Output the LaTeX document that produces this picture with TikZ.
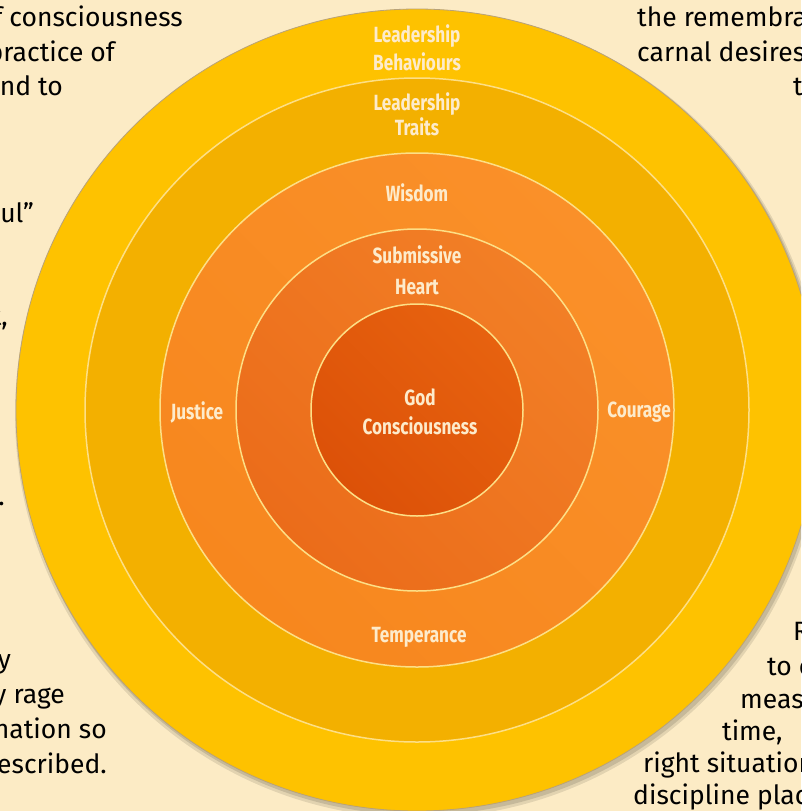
\documentclass[tikz,border=0pt]{standalone}
\usepackage{fontspec}
\setmainfont{Fira Sans}
\newfontfamily\labfont[FakeStretch=0.78]{Fira Sans}
\usetikzlibrary{calc}
\definecolor{bgcol}{HTML}{FCEBC5}
\definecolor{ringA}{HTML}{FEC200}
\definecolor{ringB}{HTML}{F3B000}
\definecolor{ringCa}{HTML}{FA9029}
\definecolor{ringCb}{HTML}{F7871E}
\definecolor{ringDa}{HTML}{F27F26}
\definecolor{ringDb}{HTML}{EB6C1A}
\definecolor{ringEa}{HTML}{E7620F}
\definecolor{ringEb}{HTML}{DC5108}
\definecolor{sepcol}{HTML}{FDDF86}
\definecolor{edgecol}{HTML}{B8A27A}
\definecolor{labcol}{HTML}{FDEBCB}
\tikzset{
  ring/.style={draw=sepcol,line width=1.5pt},
  lab/.style={text=labcol,align=center,inner sep=0pt,
    font=\labfont\bfseries\fontsize{22}{27}\selectfont},
  body/.style={text=black,inner sep=0pt,font=\fontsize{26.5}{34}\selectfont},
  bodyL/.style={body,anchor=base east},
  bodyR/.style={body,anchor=base west}
}
\begin{document}
\begin{tikzpicture}[x=1pt,y=-1pt]
\useasboundingbox (0,0) rectangle (801,811);
\clip (0,0) rectangle (801,811);
\fill[bgcol] (0,0) rectangle (801,811);
\coordinate (c) at (417,410);
% shadow
\fill[black,opacity=0.10] ($(c)+(2,4)$) circle[radius=404pt];
\fill[black,opacity=0.12] ($(c)+(2,3)$) circle[radius=402pt];
% rings
\fill[ringA,draw=edgecol,line width=0.8pt] (c) circle[radius=401pt];
\fill[ringB,ring] (c) circle[radius=332pt];
\shade[left color=ringCa,right color=ringCb,shading angle=-45] (c) circle[radius=257pt];
\draw[ring] (c) circle[radius=257pt];
\shade[left color=ringDa,right color=ringDb,shading angle=-45] (c) circle[radius=181pt];
\draw[ring] (c) circle[radius=181pt];
\shade[left color=ringEa,right color=ringEb,shading angle=-45] (c) circle[radius=106pt];
\draw[ring] (c) circle[radius=106pt];
% labels
\node[lab,font=\labfont\bfseries\fontsize{22}{28}\selectfont] (lb) at (417,48) {Leadership\\Behaviours};
\node[lab,font=\labfont\bfseries\fontsize{22}{25}\selectfont] (lt) at (417,114) {Leadership\\Traits};
\node[lab] (wi) at (417,193) {Wisdom};
\node[lab,font=\labfont\bfseries\fontsize{22}{31}\selectfont] (sh) at (417,270) {Submissive\\Heart};
\node[lab,font=\labfont\bfseries\fontsize{22}{29}\selectfont] (gc) at (420,412) {God\\Consciousness};
\node[lab] (ju) at (197,412) {Justice};
\node[lab] (co) at (639,412) {Courage};
\node[lab] (te) at (419,637) {Temperance};
% left text
\node[bodyL] (l1) at (183,26) {of consciousness};
\node[bodyL] (l2) at (115,61) {practice of};
\node[bodyL] (l3) at (63,95) {and to};
\node[bodyL] (l4) at (34,222) {soul”};
\node[bodyL] (l5) at (8,325) {heart,};
\node[bodyL] (l6) at (5,505) {act.};
\node[bodyL] (l7) at (11,668) {by};
\node[bodyL] (l8) at (65,703) {by rage};
\node[bodyL] (l9) at (107,738) {domination so};
\node[bodyL] (l10) at (107,773) {described.};
% right text
\node[bodyR] (r1) at (637,27) {the remembrance};
\node[bodyR] (r2) at (637,61) {carnal desires};
\node[bodyR] (r3) at (793,95) {to};
\node[bodyR] (r4) at (793,640) {Right};
\node[bodyR] (r5) at (767,675) {to control};
\node[bodyR] (r6) at (740,708) {measure};
\node[bodyR] (r7) at (722,740) {time,};
\node[bodyR] (r8) at (643,772) {right situation};
\node[bodyR] (r9) at (633,804) {discipline place};
\end{tikzpicture}
\end{document}
